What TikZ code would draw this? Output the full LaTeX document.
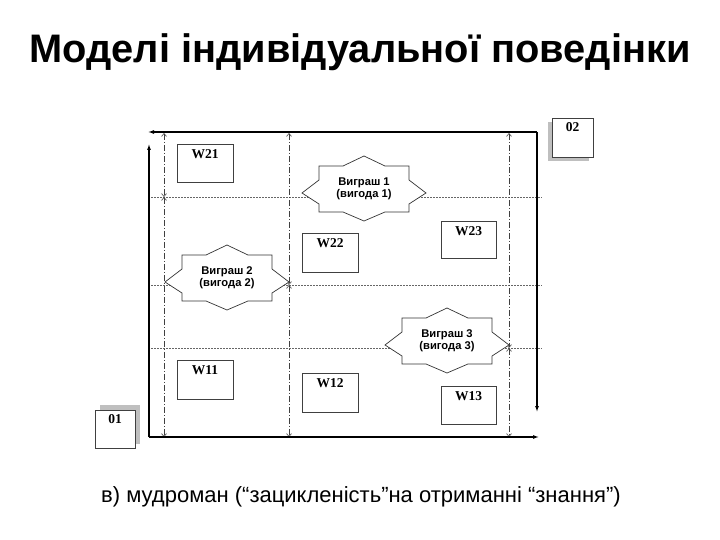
\documentclass[tikz,border=0pt]{standalone}
\usepackage{fontspec}
\setmainfont{Liberation Sans}
\newfontfamily\serifbold{Liberation Serif}
\usetikzlibrary{arrows.meta}
\begin{document}
\begin{tikzpicture}[x=1pt,y=-1pt,
  frame/.style={line width=1.1pt,black},
  framearr/.style={frame,-{Latex[length=6pt,width=4pt]}},
  dimline/.style={line width=0.6pt,black!75,dash pattern=on 6pt off 2pt on 1pt off 2pt,
     {Straight Barb[length=3pt,width=5pt]}-{Straight Barb[length=3pt,width=5pt]}},
  hline/.style={line width=0.5pt,black!60,dash pattern=on 1.5pt off 1.5pt},
  wbox/.style={draw=black!75,line width=0.7pt,fill=white},
  wlabel/.style={font=\serifbold\bfseries\fontsize{13.5}{15}\selectfont,anchor=north,inner sep=0pt},
  burst/.style={draw=black!80,line width=0.7pt,fill=white},
  blabel/.style={font=\bfseries\fontsize{11.2}{12.5}\selectfont,align=center,inner sep=0pt},
  title/.style={font=\bfseries\fontsize{39.8}{42}\selectfont,inner sep=0pt},
  caption/.style={font=\fontsize{22}{25}\selectfont,inner sep=0pt}
]
\useasboundingbox (0,0) rectangle (720,540);

% title and caption
\node[title] (ttl) at (360,52) {Моделі індивідуальної поведінки};
\node[caption] (cap) at (361,497) {в) мудроман (“зацикленість”на отриманні “знання”)};

% horizontal dotted lines
\foreach \y/\n in {197/1,285/2,348/3}{
  \coordinate (hl\n) at (151,\y);
  \coordinate (hr\n) at (542,\y);
  \draw[hline] (hl\n) -- (hr\n);
}

% vertical dimension lines
\coordinate (ta) at (164,133); \coordinate (ma) at (164,197); \coordinate (ba) at (164,437);
\coordinate (tb) at (289,133); \coordinate (mb) at (289,285); \coordinate (bb) at (289,437);
\coordinate (tc) at (509,133); \coordinate (mc) at (509,348); \coordinate (bc) at (509,437);
\draw[dimline] (ta) -- (ma);
\draw[dimline] (ma) -- (ba);
\draw[dimline] (tb) -- (mb);
\draw[dimline] (mb) -- (bb);
\draw[dimline] (tc) -- (mc);
\draw[dimline] (mc) -- (bc);

% frame
\coordinate (o1) at (149,437);
\coordinate (o1up) at (149,144);
\coordinate (o1rt) at (539,437);
\coordinate (o2) at (537,132);
\coordinate (o2lt) at (148,132);
\coordinate (o2dn) at (537,412);
\draw[framearr] (o1) -- (o1up);
\draw[framearr] (o1) -- (o1rt);
\draw[framearr] (o2) -- (o2lt);
\draw[framearr] (o2) -- (o2dn);

% W boxes
\foreach \n/\xa/\ya/\xb/\yb in {21/177/144/233/182, 22/302/233/358/272, 23/441/221/496/258,
                                11/177/360/233/399, 12/302/373/358/412, 13/441/386/496/424}{
  \draw[wbox] (\xa,\ya) rectangle (\xb,\yb);
  \node[wlabel] (w\n) at ({(\xa+\xb)/2},\ya+5) {W\n};
}

% 01 and 02 boxes
\fill[black!25] (100,405) rectangle (140,444);
\draw[wbox] (95,410) rectangle (135,448);
\node[wlabel] (b01) at (115,414) {01};
\fill[black!25] (548,122) rectangle (589,161);
\draw[wbox] (552,118) rectangle (593,157);
\node[wlabel] (b02) at (572.5,122) {02};

% bursts
\foreach \n/\cx/\cy in {1/364/189, 2/227/278, 3/447/341}{
  \begin{scope}[shift={(\cx,\cy)}]
  \draw[burst] (-45,-23) -- (-21,-23) -- (0,-33) -- (21,-23) -- (45,-23) -- (45,-9) -- (62,4)
     -- (45,15) -- (45,23) -- (21,23) -- (0,32) -- (-21,23) -- (-45,23) -- (-45,15) -- (-62,4)
     -- (-45,-9) -- cycle;
  \node[blabel] (g\n) at (0,0) {Виграш \n\\(вигода \n)};
  \end{scope}
}
\end{tikzpicture}
\end{document}
